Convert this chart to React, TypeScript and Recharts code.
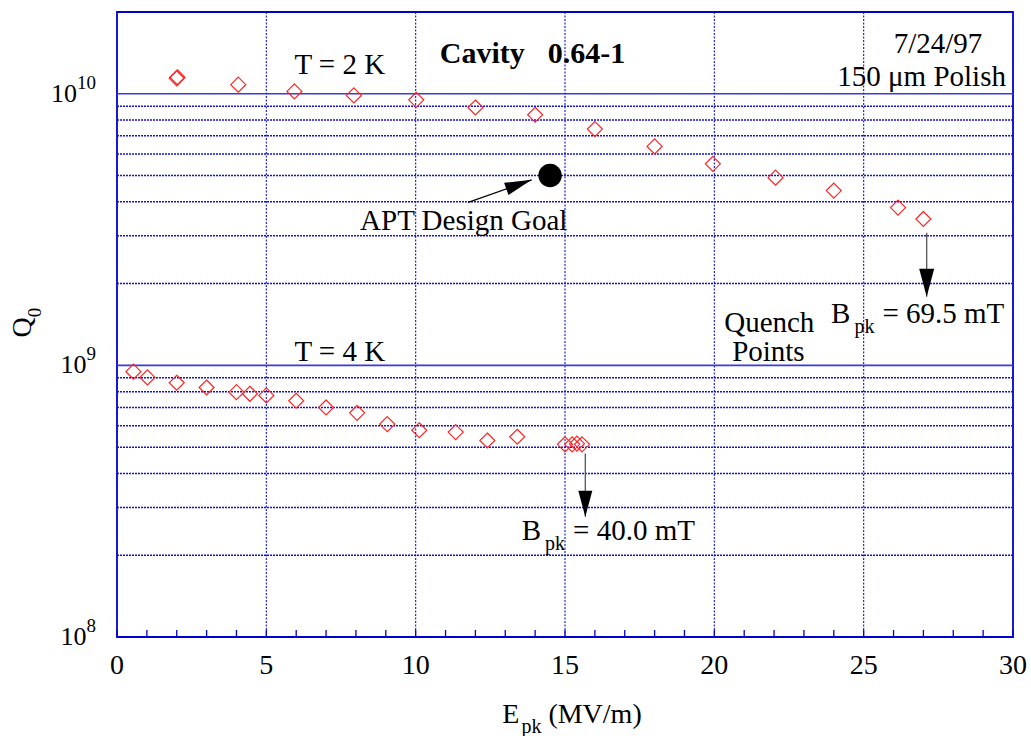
import React from 'react';
import {
  ScatterChart,
  Scatter,
  XAxis,
  YAxis,
  ReferenceLine,
  ReferenceDot,
  ReferenceArea,
} from 'recharts';

const SERIF = '"Liberation Serif", "Times New Roman", Times, serif';
const GRID_BLUE = '#1212d6';
const FRAME_BLUE = '#0000d0';
const RED = '#ff2424';

// axes
const xTicks = [0, 1, 2, 3, 4, 5, 6, 7, 8, 9, 10, 11, 12, 13, 14, 15, 16, 17, 18, 19, 20, 21, 22, 23, 24, 25, 26, 27, 28, 29, 30];
const xGrid = [5, 10, 15, 20, 25];
const yDecades = [1e8, 1e9, 1e10];
const yMinor = [2e8, 3e8, 4e8, 5e8, 6e8, 7e8, 8e8, 9e8, 2e9, 3e9, 4e9, 5e9, 6e9, 7e9, 8e9, 9e9];
const yMajorLines = [1e9, 1e10];

// T = 2 K
const e2K = [2.0, 2.02, 4.06, 5.94, 7.93, 10.02, 12.0, 14.0, 16.0, 18.0, 19.95, 22.05, 24.0, 26.15, 27.0];
const q2K = [1.14e10, 1.15e10, 1.08e10, 1.02e10, 9.86e9, 9.5e9, 8.9e9, 8.37e9, 7.41e9, 6.4e9, 5.52e9, 4.91e9, 4.4e9, 3.81e9, 3.46e9];

// T = 4 K
const e4K = [0.55, 1.02, 2.0, 3.0, 4.0, 4.45, 5.0, 6.0, 7.0, 8.04, 9.05, 10.12, 11.34, 12.4, 13.4, 15.0, 15.24, 15.4, 15.57];
const q4K = [9.48e8, 9.03e8, 8.63e8, 8.29e8, 7.97e8, 7.86e8, 7.75e8, 7.41e8, 7.0e8, 6.69e8, 6.08e8, 5.77e8, 5.68e8, 5.29e8, 5.46e8, 5.12e8, 5.12e8, 5.15e8, 5.12e8];

// APT design goal
const goalE = [14.5];
const goalQ = [5.0e9];

// arrows: start -> tip (data units), angle of the head in degrees
const arrows = [
  { x1: 27.11, y1: 3.08e9, x2: 27.11, y2: 1.79e9, angle: 90, color: '#555', len: 28, half: 7.5 },
  { x1: 15.68, y1: 4.74e8, x2: 15.68, y2: 2.77e8, angle: 90, color: '#555', len: 26, half: 7 },
  { x1: 11.76, y1: 3.98e9, x2: 13.885, y2: 4.82e9, angle: -19.7, color: '#000', len: 27, half: 6.5 },
];

type Note = {
  x: number;
  y: number;
  text: string;
  anchor?: 'start' | 'middle' | 'end';
  sub?: string;
  rest?: string;
  gap?: number;
  bold?: boolean;
};

const notes: Note[] = [
  { x: 7.46, y: 1.185e10, text: 'T = 2 K' },
  { x: 10.81, y: 1.297e10, text: 'Cavity', rest: '0.64-1', gap: 23, bold: true, anchor: 'start' },
  { x: 27.49, y: 1.413e10, text: '7/24/97' },
  { x: 26.94, y: 1.07e10, text: '150 \u03bcm Polish' },
  { x: 11.61, y: 3.153e9, text: 'APT Design Goal' },
  { x: 7.46, y: 1.039e9, text: 'T = 4 K' },
  { x: 21.84, y: 1.33e9, text: 'Quench' },
  { x: 21.81, y: 1.037e9, text: 'Points' },
  { x: 23.91, y: 1.436e9, text: 'B', sub: 'pk', rest: '= 69.5 mT', gap: 8, anchor: 'start' },
  { x: 13.55, y: 2.27e8, text: 'B', sub: 'pk', rest: '= 40.0 mT', gap: 8, anchor: 'start' },
];

const toPoints = (xs: number[], ys: number[]) => xs.map((x, i) => ({ x, y: ys[i] }));
const data2K = toPoints(e2K, q2K);
const data4K = toPoints(e4K, q4K);
const goalData = toPoints(goalE, goalQ);

const Diamond = (props: any) => {
  const { cx, cy } = props;
  const h = 7.5;
  return (
    <path
      d={`M${cx},${cy - h}L${cx + h},${cy}L${cx},${cy + h}L${cx - h},${cy}Z`}
      fill="none"
      stroke={RED}
      strokeWidth={1.2}
    />
  );
};

const Dot = (props: any) => <circle cx={props.cx} cy={props.cy} r={11.7} fill="#000" />;

const BottomTick = (props: any) => {
  const { x, y, payload } = props;
  const v = payload.value;
  return (
    <g>
      <line x1={x} y1={y} x2={x} y2={y - 7} stroke={FRAME_BLUE} strokeWidth={1.3} />
      {v % 5 === 0 && (
        <text x={x} y={y + 37} textAnchor="middle" fontFamily={SERIF} fontSize={28} fill="#000">
          {v}
        </text>
      )}
    </g>
  );
};

const TopTick = (props: any) => {
  const { x, y } = props;
  return <line x1={x} y1={y} x2={x} y2={y + 7} stroke={FRAME_BLUE} strokeWidth={1.3} />;
};

const LeftTick = (props: any) => {
  const { x, y, payload } = props;
  const exp = Math.round(Math.log10(payload.value));
  return (
    <text x={x} y={y + 8} textAnchor="end" fontFamily={SERIF} fontSize={26} fill="#000">
      10
      <tspan fontSize={19} dy={-13}>
        {exp}
      </tspan>
    </text>
  );
};

const XTitle = (props: any) => {
  const { x, y, width } = props.viewBox;
  return (
    <text x={x + width / 2 + 7} y={y + 86} textAnchor="middle" fontFamily={SERIF} fontSize={28} fill="#000">
      E
      <tspan fontSize={20} dy={10} dx={2}>
        pk
      </tspan>
      <tspan dy={-10} dx={7}>
        (MV/m)
      </tspan>
    </text>
  );
};

const YTitle = (props: any) => {
  const { x, y, height } = props.viewBox;
  const cx = x + 31;
  const cy = y + height / 2 - 2;
  return (
    <text
      x={cx}
      y={cy}
      transform={`rotate(-90 ${cx} ${cy})`}
      textAnchor="middle"
      fontFamily={SERIF}
      fontSize={28}
      fill="#000"
    >
      Q
      <tspan fontSize={19} dy={10}>
        0
      </tspan>
    </text>
  );
};

const renderNote = (n: Note, i: number) => (
  <ReferenceDot
    key={`note-${i}`}
    x={n.x}
    y={n.y}
    r={0}
    ifOverflow="visible"
    shape={(p: any) => (
      <text
        x={p.cx}
        y={p.cy}
        textAnchor={n.anchor || 'middle'}
        fontFamily={SERIF}
        fontSize={n.bold ? 30 : 29}
        fontWeight={n.bold ? 'bold' : 'normal'}
        fill="#000"
      >
        {n.text}
        {n.sub && (
          <tspan fontSize={20} dx={4} dy={10}>
            {n.sub}
          </tspan>
        )}
        {n.rest && (
          <tspan dx={n.gap || 0} dy={n.sub ? -10 : 0}>
            {n.rest}
          </tspan>
        )}
      </text>
    )}
  />
);

const renderArrow = (a: (typeof arrows)[number], i: number) => [
  <ReferenceLine
    key={`arrow-line-${i}`}
    segment={[
      { x: a.x1, y: a.y1 },
      { x: a.x2, y: a.y2 },
    ]}
    stroke={a.color}
    strokeWidth={1.3}
    ifOverflow="visible"
  />,
  <ReferenceDot
    key={`arrow-head-${i}`}
    x={a.x2}
    y={a.y2}
    r={0}
    ifOverflow="visible"
    shape={(p: any) => (
      <polygon
        points={`0,0 ${-a.len},${-a.half} ${-a.len},${a.half}`}
        transform={`translate(${p.cx} ${p.cy}) rotate(${a.angle})`}
        fill="#000"
      />
    )}
  />,
];

export default function App() {
  return (
    <div style={{ position: 'absolute', left: 0, top: 0, width: 1031, height: 736, background: '#fff' }}>
      <ScatterChart width={1031} height={736} margin={{ top: 12, right: 18, bottom: 0, left: 0 }}>
        <XAxis
          xAxisId={0}
          type="number"
          dataKey="x"
          domain={[0, 30]}
          ticks={xTicks}
          interval={0}
          allowDataOverflow
          height={99}
          tickSize={0}
          tickMargin={0}
          axisLine={false}
          tickLine={false}
          tick={BottomTick}
          label={XTitle}
        />
        <XAxis
          xAxisId="top"
          orientation="top"
          type="number"
          dataKey="x"
          domain={[0, 30]}
          ticks={xTicks}
          interval={0}
          allowDataOverflow
          height={0}
          tickSize={0}
          tickMargin={0}
          axisLine={false}
          tickLine={false}
          tick={TopTick}
        />
        <YAxis
          type="number"
          dataKey="y"
          scale="log"
          domain={[1e8, 2e10]}
          ticks={yDecades}
          interval={0}
          allowDataOverflow
          width={117}
          tickSize={0}
          tickMargin={21}
          axisLine={false}
          tickLine={false}
          tick={LeftTick}
          label={YTitle}
        />

        {yMinor.map((v) => (
          <ReferenceLine key={`hy-${v}`} y={v} stroke={GRID_BLUE} strokeWidth={1.5} strokeDasharray="2 1" />
        ))}
        {xGrid.map((v) => (
          <ReferenceLine key={`vx-${v}`} x={v} stroke={GRID_BLUE} strokeWidth={1.1} strokeDasharray="2 1.5" />
        ))}
        {yMajorLines.map((v) => (
          <ReferenceLine key={`my-${v}`} y={v} stroke="#3a3ae0" strokeWidth={1.6} />
        ))}
        <ReferenceArea
          x1={0}
          x2={30}
          y1={1e8}
          y2={2e10}
          fill="none"
          stroke={FRAME_BLUE}
          strokeWidth={1.8}
          ifOverflow="visible"
        />

        <Scatter name="T = 2 K" data={data2K} shape={Diamond} isAnimationActive={false} />
        <Scatter name="T = 4 K" data={data4K} shape={Diamond} isAnimationActive={false} />
        <Scatter name="APT Design Goal" data={goalData} shape={Dot} isAnimationActive={false} />

        {arrows.map(renderArrow)}
        {notes.map(renderNote)}
      </ScatterChart>
    </div>
  );
}
